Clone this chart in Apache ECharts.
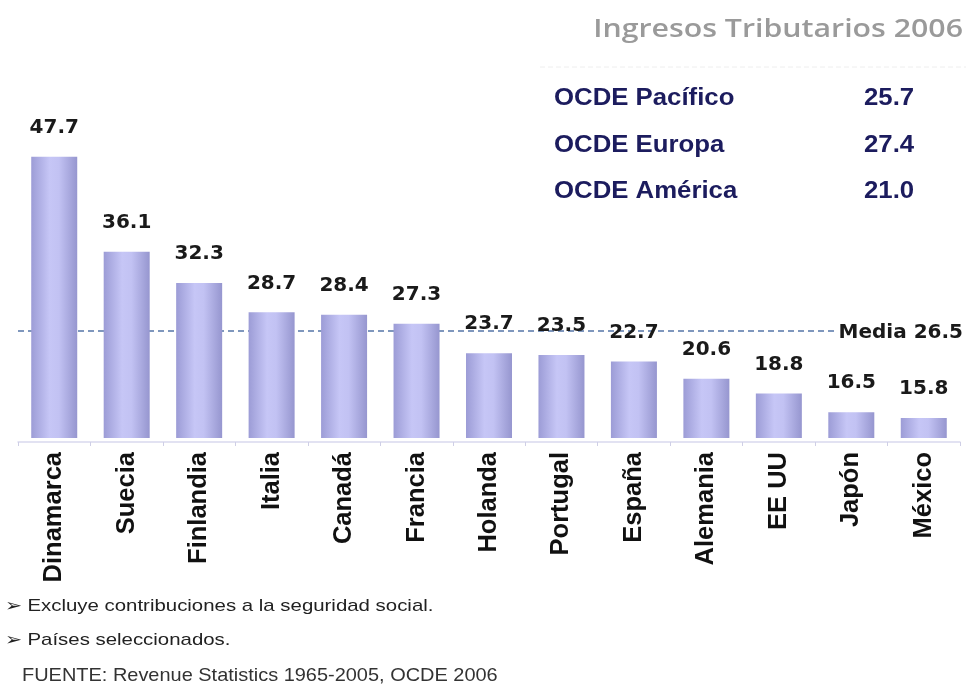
<!DOCTYPE html>
<html>
<head>
<meta charset="utf-8">
<title>Ingresos Tributarios 2006</title>
<script src="https://cdn.jsdelivr.net/npm/echarts@6/dist/echarts.min.js"></script>
<style>
  html, body { margin: 0; padding: 0; background: #ffffff; }
  #chart { width: 969px; height: 689px; }
</style>
</head>
<body>
<div id="chart"></div>
<script>
// Tax revenue as % of GDP, 2006 (selected OECD countries)
const countries = ['Dinamarca', 'Suecia', 'Finlandia', 'Italia', 'Canadá', 'Francia',
  'Holanda', 'Portugal', 'España', 'Alemania', 'EE UU', 'Japón', 'México'];
const revenue = [47.7, 36.1, 32.3, 28.7, 28.4, 27.3, 23.7, 23.5, 22.7, 20.6, 18.8, 16.5, 15.8];

// Regional OECD averages shown in the summary block
const regionNames = ['OCDE Pacífico', 'OCDE Europa', 'OCDE América'];
const regionValues = ['25.7', '27.4', '21.0'];

const meanValue = 26.5;

const footnotes = [
  '\u27A2 Excluye contribuciones a la seguridad social.',
  '\u27A2 Países seleccionados.'
];
const sourceNote = 'FUENTE: Revenue Statistics 1965-2005, OCDE 2006';
const titleText = 'Ingresos Tributarios 2006';

const chart = echarts.init(document.getElementById('chart'), null, { renderer: 'canvas' });

const BOLD_WIDE = '"DejaVu Sans", Verdana, sans-serif';
const ARIAL = '"Liberation Sans", Arial, sans-serif';

const barGradient = new echarts.graphic.LinearGradient(0, 0, 1, 0, [
  { offset: 0, color: '#9c9cd6' },
  { offset: 0.4, color: '#c6c6f6' },
  { offset: 0.6, color: '#c2c2f3' },
  { offset: 1, color: '#9696cf' }
]);

// helper: a text element anchored at (x, y), optionally stretched horizontally
function label(text, x, y, font, fill, opts) {
  opts = opts || {};
  return {
    type: 'text',
    x: x, y: y,
    scaleX: opts.scaleX || 1,
    style: {
      text: text, x: 0, y: 0, fill: fill, font: font,
      textAlign: opts.align || 'left',
      textVerticalAlign: 'middle'
    }
  };
}

const summaryTexts = [];
regionNames.forEach((name, i) => {
  const y = 99 + i * 46.5;
  summaryTexts.push(label(name, 554, y, 'bold 23px ' + ARIAL, '#1c1c5e', { scaleX: 1.12 }));
  summaryTexts.push(label(regionValues[i], 864, y, 'bold 23px ' + ARIAL, '#1c1c5e', { scaleX: 1.12 }));
});

chart.setOption({
  backgroundColor: '#ffffff',
  animation: false,
  grid: { left: 18, right: 9, top: 138, bottom: 251, containLabel: false },
  xAxis: {
    type: 'category',
    data: countries,
    offset: 4,
    axisLine: { show: true, lineStyle: { color: '#d9d9ee', width: 1.5 } },
    axisTick: { show: true, length: 4, lineStyle: { color: '#cfcfe6' } },
    axisLabel: {
      rotate: 90,
      margin: 10,
      color: '#111111',
      fontSize: 25.5,
      fontWeight: 'bold',
      fontFamily: ARIAL
    }
  },
  yAxis: {
    type: 'value',
    min: 13.35,
    max: 50,
    show: false,
    splitLine: { show: false }
  },
  series: [{
    type: 'bar',
    data: revenue,
    barWidth: 46,
    itemStyle: { color: barGradient },
    label: {
      show: true,
      position: 'top',
      distance: 19,
      color: '#1a1a1a',
      fontSize: 20,
      fontWeight: 'bold',
      fontFamily: BOLD_WIDE,
      formatter: p => p.value.toFixed(1)
    },
    markLine: {
      silent: true,
      symbol: ['none', 'none'],
      z: 1,
      lineStyle: { color: '#5575a8', type: [6, 4], width: 1.6 },
      label: {
        show: true,
        position: 'insideEndTop',
        offset: [9, 21],
        formatter: 'Media ' + meanValue.toFixed(1),
        color: '#1a1a1a',
        fontSize: 20,
        fontWeight: 'bold',
        fontFamily: BOLD_WIDE,
        backgroundColor: '#ffffff',
        padding: [4, 1, 4, 3]
      },
      data: [{ yAxis: meanValue }]
    }
  }],
  graphic: [
    label(titleText, 963, 30, '600 26px "Open Sans", sans-serif', '#9a9a9a', { align: 'right', scaleX: 1.165 }),
    {
      type: 'line', shape: { x1: 540, y1: 67, x2: 966, y2: 67 },
      style: { stroke: '#eeeeee', lineWidth: 1, lineDash: [5, 3] }
    },
    ...summaryTexts,
    label(footnotes[0], 5, 606, '17px ' + ARIAL, '#222222', { scaleX: 1.2 }),
    label(footnotes[1], 5, 640, '17px ' + ARIAL, '#222222', { scaleX: 1.2 }),
    label(sourceNote, 22, 676, '19px ' + ARIAL, '#333333', { scaleX: 1.05 })
  ]
});
</script>
</body>
</html>
